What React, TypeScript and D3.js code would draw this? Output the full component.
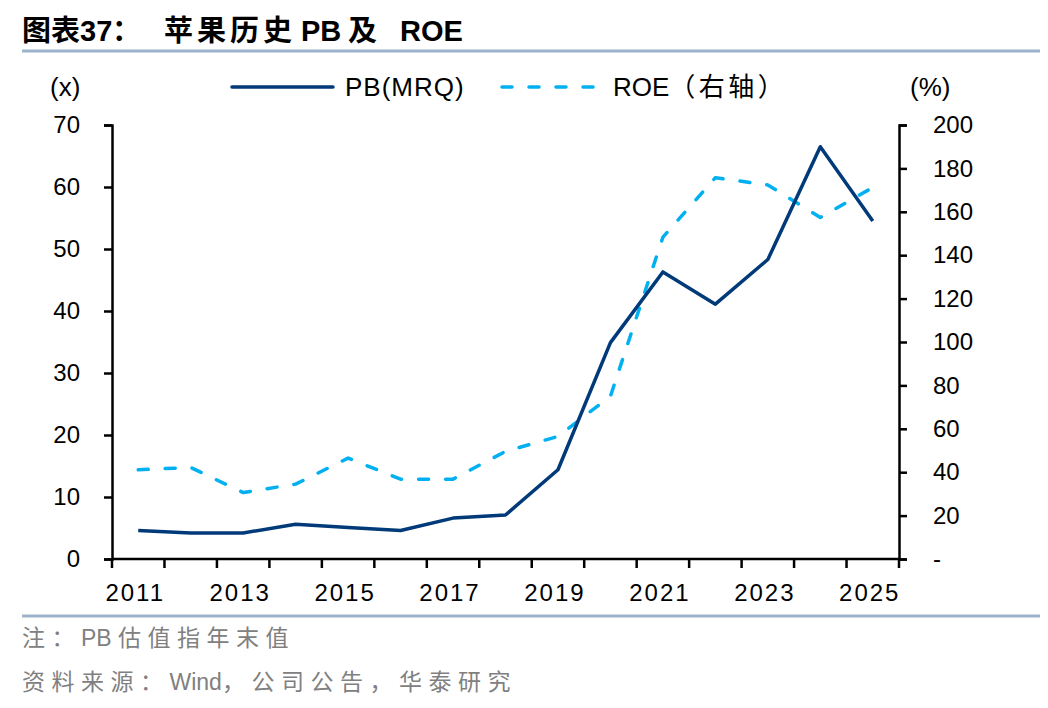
import { useEffect, useRef } from "react";
import * as d3 from "d3";

const years = [
  "2011", "2012", "2013", "2014", "2015", "2016", "2017", "2018",
  "2019", "2020", "2021", "2022", "2023", "2024", "2025",
];
const pbValues = [4.6, 4.2, 4.2, 5.6, 5.1, 4.6, 6.6, 7.1, 14.4, 34.9, 46.3, 41.1, 48.3, 66.5, 54.5];
const roeValues = [41.1, 42.2, 30.6, 34.5, 46.5, 36.8, 36.8, 49.6, 56.5, 75.0, 148.3, 175.7, 172.4, 157.4, 171.2];
const leftTicks = [0, 10, 20, 30, 40, 50, 60, 70];
const rightTicks = [0, 20, 40, 60, 80, 100, 120, 140, 160, 180, 200];
const yearLabels = ["2011", "2013", "2015", "2017", "2019", "2021", "2023", "2025"];

const W = 1048;
const H = 708;
const NAVY = "#003A78";
const SKY = "#00B0F0";
const RULE = "#9CB3CB";
const LATIN = "'Liberation Sans', Arial, sans-serif";
const CJK = "'Noto Sans CJK SC', 'Liberation Sans', sans-serif";

export default function App() {
  const svgRef = useRef<SVGSVGElement>(null);

  useEffect(() => {
    if (!svgRef.current) return;
    const svg = d3.select(svgRef.current);
    svg.selectAll("*").remove();

    const left = 112;
    const right = 899;
    const top = 125;
    const bottom = 559;

    const x = d3.scaleBand<string>().domain(years).range([left, right]);
    const yL = d3.scaleLinear().domain([0, 70]).range([bottom, top]);
    const yR = d3.scaleLinear().domain([0, 200]).range([bottom, top]);
    const cx = (d: string) => (x(d) ?? 0) + x.bandwidth() / 2;

    // title, pieces placed one by one like the report layout
    const titleParts: [string, string, number, number][] = [
      ["图表", CJK, 22, 0],
      ["37", LATIN, 80, 0],
      ["：", CJK, 112, 0],
      ["苹果历史", CJK, 164, 4],
      ["PB", LATIN, 301, 0],
      ["及", CJK, 348, 0],
      ["ROE", LATIN, 400, 0],
    ];
    svg
      .append("g")
      .selectAll("text")
      .data(titleParts)
      .join("text")
      .attr("x", (d) => d[2])
      .attr("y", 41)
      .attr("font-family", (d) => d[1])
      .attr("letter-spacing", (d) => d[3])
      .attr("font-size", 29)
      .attr("font-weight", "bold")
      .attr("fill", "#000")
      .text((d) => d[0]);

    svg
      .append("line")
      .attr("x1", 22)
      .attr("x2", 1040)
      .attr("y1", 51)
      .attr("y2", 51)
      .attr("stroke", RULE)
      .attr("stroke-width", 3);

    // legend
    const legendY = 87;
    svg
      .append("line")
      .attr("x1", 232)
      .attr("x2", 333)
      .attr("y1", legendY)
      .attr("y2", legendY)
      .attr("stroke", NAVY)
      .attr("stroke-width", 3.5)
      .attr("stroke-linecap", "round");
    svg
      .append("text")
      .attr("x", 345)
      .attr("y", legendY + 9)
      .attr("font-family", LATIN)
      .attr("font-size", 26)
      .attr("letter-spacing", 1)
      .text("PB(MRQ)");
    svg
      .append("line")
      .attr("x1", 502)
      .attr("x2", 597)
      .attr("y1", legendY)
      .attr("y2", legendY)
      .attr("stroke", SKY)
      .attr("stroke-width", 3.5)
      .attr("stroke-linecap", "round")
      .attr("stroke-dasharray", "10,17");
    const roeLegend = svg
      .append("text")
      .attr("x", 613)
      .attr("y", legendY + 9)
      .attr("font-size", 26);
    roeLegend.append("tspan").attr("font-family", LATIN).text("ROE");
    roeLegend.append("tspan").attr("font-family", CJK).attr("letter-spacing", 3.5).text("（右轴）");

    svg
      .append("text")
      .attr("x", 50)
      .attr("y", legendY + 9)
      .attr("font-family", LATIN)
      .attr("font-size", 26)
      .text("(x)");
    svg
      .append("text")
      .attr("x", 910)
      .attr("y", legendY + 9)
      .attr("font-family", LATIN)
      .attr("font-size", 26)
      .text("(%)");

    // axes
    const axisStyle = (g: d3.Selection<SVGGElement, unknown, null, undefined>) => {
      g.selectAll(".domain").attr("stroke", "#000").attr("stroke-width", 2.5);
      g.selectAll(".tick line").attr("stroke", "#000").attr("stroke-width", 2.5);
      g.selectAll(".tick text")
        .attr("font-family", LATIN)
        .attr("font-size", 24)
        .attr("fill", "#000");
    };

    const gL = svg
      .append("g")
      .attr("transform", `translate(${left},0)`)
      .call(d3.axisLeft(yL).tickValues(leftTicks).tickSize(8).tickSizeOuter(8).tickPadding(24));
    axisStyle(gL);

    const gR = svg
      .append("g")
      .attr("transform", `translate(${right},0)`)
      .call(
        d3
          .axisRight(yR)
          .tickValues(rightTicks)
          .tickSize(8)
          .tickSizeOuter(8)
          .tickPadding(26)
          .tickFormat((d) => (d === 0 ? "-" : String(d)))
      );
    axisStyle(gR);

    const gX = svg.append("g").attr("transform", `translate(0,${bottom})`);
    gX.append("line")
      .attr("x1", left)
      .attr("x2", right)
      .attr("stroke", "#000")
      .attr("stroke-width", 2.5);
    const edges = years.map((d) => x(d) ?? 0).concat([right]);
    gX.selectAll("line.tk")
      .data(edges)
      .join("line")
      .attr("class", "tk")
      .attr("x1", (d) => d)
      .attr("x2", (d) => d)
      .attr("y1", 0)
      .attr("y2", 9)
      .attr("stroke", "#000")
      .attr("stroke-width", 2.5);
    gX.selectAll("text")
      .data(yearLabels)
      .join("text")
      .attr("x", (d) => cx(d) - 3)
      .attr("y", 42)
      .attr("text-anchor", "middle")
      .attr("font-family", LATIN)
      .attr("font-size", 24)
      .attr("letter-spacing", 2)
      .text((d) => d);

    // lines
    const pbLine = d3
      .line<number>()
      .x((_, i) => cx(years[i]))
      .y((d) => yL(d));
    const roeLine = d3
      .line<number>()
      .x((_, i) => cx(years[i]))
      .y((d) => yR(d));

    svg
      .append("path")
      .datum(roeValues)
      .attr("d", roeLine)
      .attr("fill", "none")
      .attr("stroke", SKY)
      .attr("stroke-width", 3.5)
      .attr("stroke-linecap", "round")
      .attr("stroke-linejoin", "round")
      .attr("stroke-dasharray", "10,17");

    svg
      .append("path")
      .datum(pbValues)
      .attr("d", pbLine)
      .attr("fill", "none")
      .attr("stroke", NAVY)
      .attr("stroke-width", 3.5)
      .attr("stroke-linejoin", "round");

    // footer
    svg
      .append("line")
      .attr("x1", 22)
      .attr("x2", 1040)
      .attr("y1", 616)
      .attr("y2", 616)
      .attr("stroke", RULE)
      .attr("stroke-width", 3);

    const note = svg
      .append("text")
      .attr("x", 22)
      .attr("y", 646)
      .attr("font-size", 23)
      .attr("fill", "#808080");
    note.append("tspan").attr("font-family", CJK).attr("letter-spacing", 6.5).text("注：");
    note.append("tspan").attr("font-family", LATIN).text("PB ");
    note.append("tspan").attr("font-family", CJK).attr("letter-spacing", 6.5).text("估值指年末值");

    const source = svg
      .append("text")
      .attr("x", 22)
      .attr("y", 690)
      .attr("font-size", 23)
      .attr("fill", "#808080");
    source.append("tspan").attr("font-family", CJK).attr("letter-spacing", 6.5).text("资料来源：");
    source.append("tspan").attr("font-family", LATIN).text("Wind");
    source.append("tspan").attr("font-family", CJK).attr("letter-spacing", 6.5).text("，公司公告，华泰研究");
  }, []);

  return (
    <svg
      ref={svgRef}
      width={W}
      height={H}
      style={{ position: "absolute", left: 0, top: 0, background: "#fff" }}
    />
  );
}
